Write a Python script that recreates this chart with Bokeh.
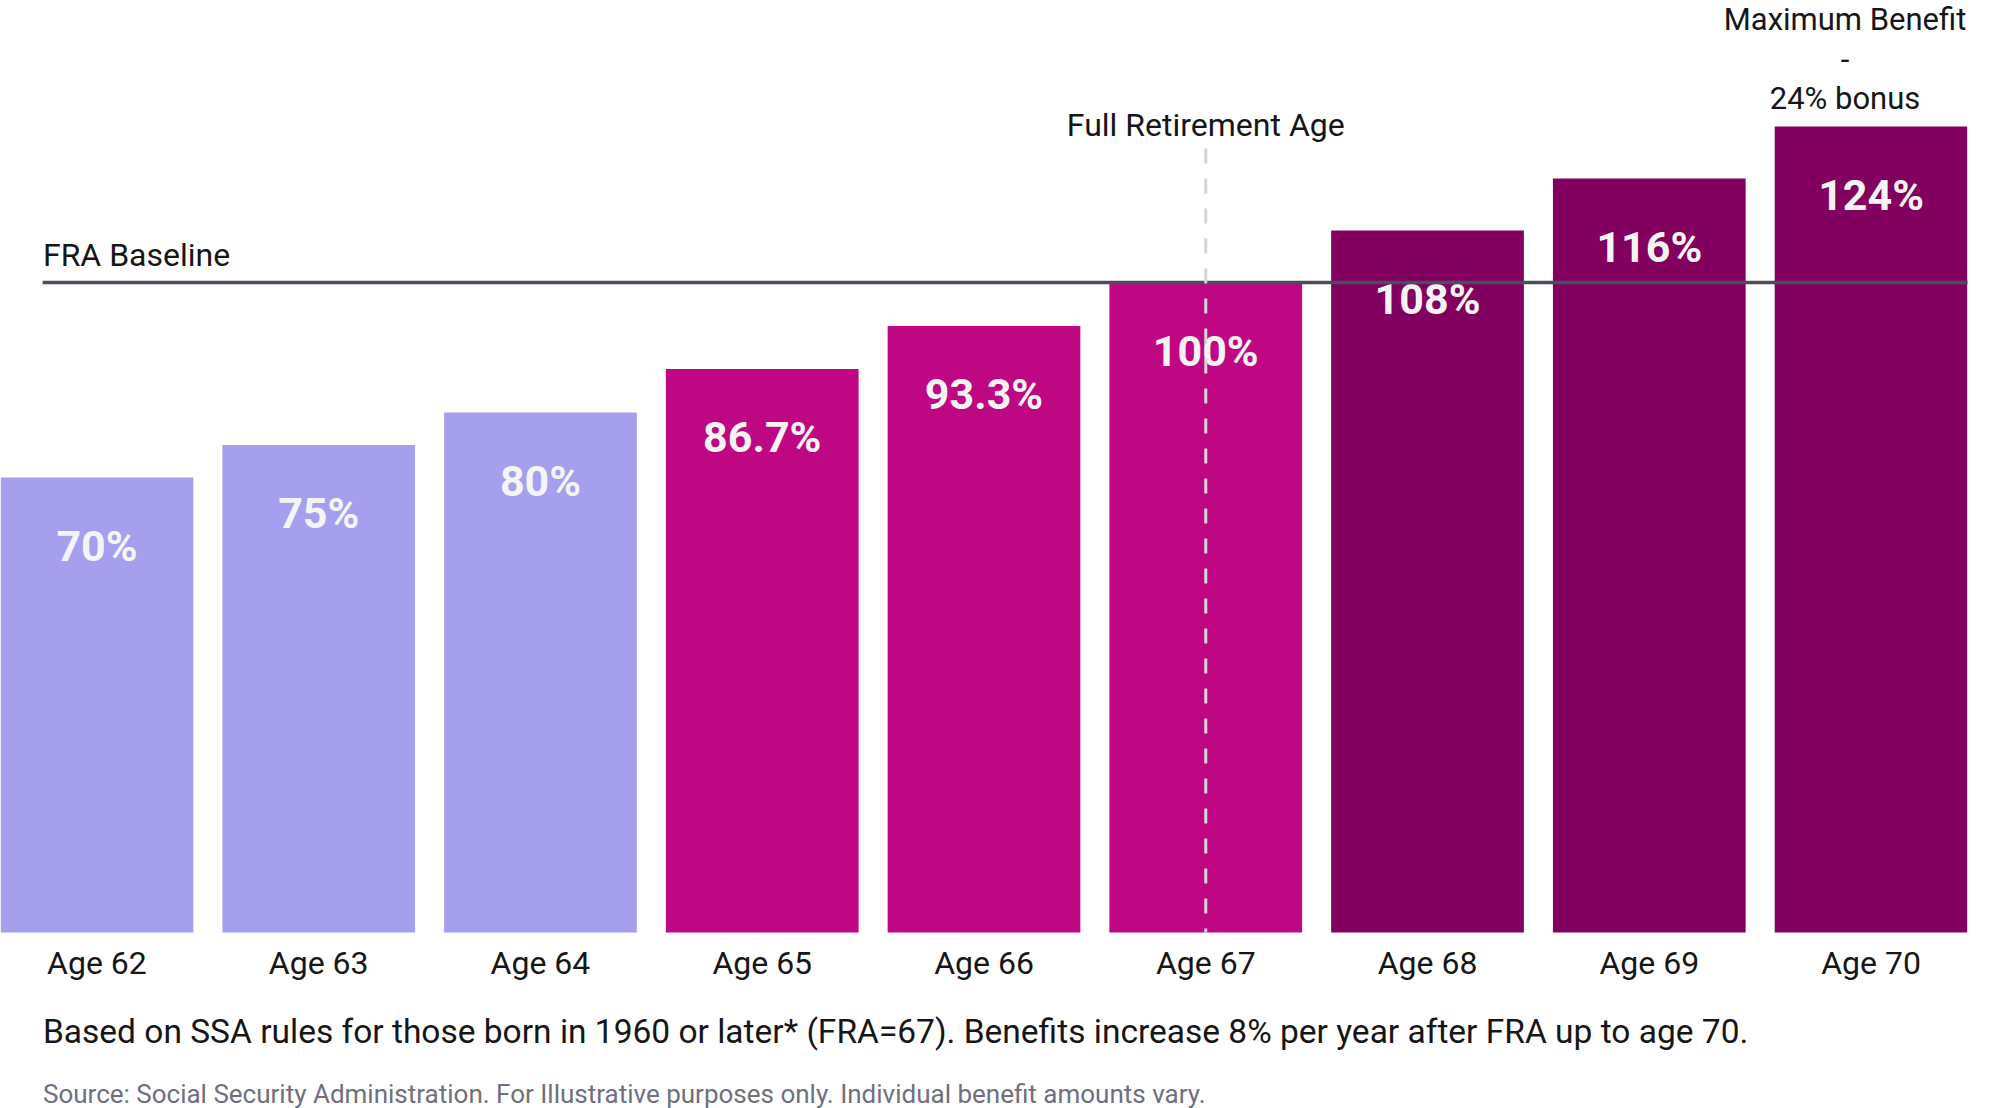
from bokeh.plotting import figure
from bokeh.models import FactorRange, ColumnDataSource
from bokeh.core.properties import value
from bokeh.embed import file_html
from bokeh.resources import INLINE

ages = ["Age 62", "Age 63", "Age 64", "Age 65", "Age 66", "Age 67", "Age 68", "Age 69", "Age 70"]
benefit = [70, 75, 80, 86.7, 93.3, 100, 108, 116, 124]
labels = ["70%", "75%", "80%", "86.7%", "93.3%", "100%", "108%", "116%", "124%"]
groups = ["early", "early", "early", "mid", "mid", "mid", "late", "late", "late"]
fra_value = 100
fra_age = "Age 67"
max_age = "Age 70"
note = "Based on SSA rules for those born in 1960 or later* (FRA=67). Benefits increase 8% per year after FRA up to age 70."
source_note = "Source: Social Security Administration. For Illustrative purposes only. Individual benefit amounts vary."

palette = {"early": "#A59FED", "mid": "#C00783", "late": "#82005E"}
FONT = "Roboto"

src = ColumnDataSource(dict(
    age=ages, val=benefit, lab=labels,
    color=[palette[g] for g in groups],
))

# layout: plot area spans full height; y=0 sits 932 px from the top, 6.5 px per unit
H = 1108
ZERO_PX = 932
PX_PER_UNIT = 6.5
PAD = -0.065

p = figure(
    width=2000, height=H,
    x_range=FactorRange(factors=ages, range_padding=PAD, range_padding_units="absolute"),
    y_range=(-(H - ZERO_PX) / PX_PER_UNIT, ZERO_PX / PX_PER_UNIT),
    output_backend="svg", toolbar_location=None,
    min_border_left=0, min_border_right=33, min_border_top=0, min_border_bottom=0,
)
p.outline_line_color = None
p.background_fill_color = "white"
p.border_fill_color = "white"
p.grid.visible = False
p.yaxis.visible = False

xa = p.xaxis[0]
xa.fixed_location = 0
xa.axis_line_color = None
xa.major_tick_line_color = None
xa.minor_tick_line_color = None
xa.major_label_text_font = FONT
xa.major_label_text_font_size = "32px"
xa.major_label_text_color = "#161616"
xa.major_label_standoff = 5

p.vbar(x="age", top="val", width=0.869, source=src, fill_color="color", line_color=None)

p.text(x="age", y="val", text="lab", source=src, y_offset=68,
       text_align="center", text_baseline="middle",
       text_font=value(FONT), text_font_style="bold", text_font_size="43px",
       text_color="#F4F4F4")

# FRA baseline (from just inside the left edge to the right edge of the plot area)
p.line(x=[-PAD + 0.19, len(ages)], y=[fra_value, fra_value], line_color="#4B4B62", line_width=3.5)
p.text(x=[ages[0]], y=[fra_value], text=["FRA Baseline"], x_offset=-54, y_offset=-28,
       text_align="left", text_baseline="middle",
       text_font=value(FONT), text_font_size="32px", text_color="#161616")

# Full retirement age marker
p.line(x=[fra_age, fra_age], y=[120.6, 0], line_color="#D4D4DA", line_width=3, line_dash="15 15")
p.text(x=[fra_age], y=[120.6], text=["Full Retirement Age"], y_offset=-24,
       text_align="center", text_baseline="middle",
       text_font=value(FONT), text_font_size="32px", text_color="#161616")

p.text(x=[max_age], y=[max(benefit)], text=["Maximum Benefit\n-\n24% bonus"],
       x_offset=-26, y_offset=-9,
       text_align="center", text_baseline="bottom",
       text_font=value(FONT), text_font_size="31px", text_color="#161616",
       text_line_height=1.08)

# notes under the axis
p.text(x=[ages[0]], y=[0], text=[note], x_offset=-54, y_offset=99,
       text_align="left", text_baseline="middle",
       text_font=value(FONT), text_font_size="33.5px", text_color="#161616")
p.text(x=[ages[0]], y=[0], text=[source_note], x_offset=-54, y_offset=161,
       text_align="left", text_baseline="middle",
       text_font=value(FONT), text_font_size="26px", text_color="#6F6F80")

open("out.html", "w").write(file_html(p, INLINE))
